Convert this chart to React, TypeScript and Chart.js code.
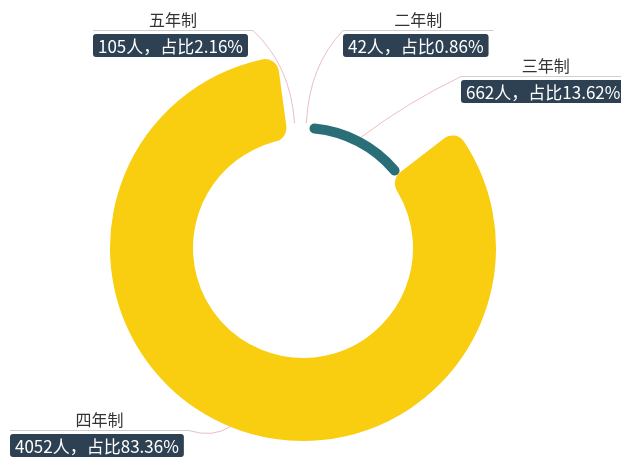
import React, { useEffect, useRef } from 'react';
import { Chart, registerables } from 'chart.js';

Chart.register(...registerables);

const categories = ['二年制', '三年制', '四年制', '五年制'];
const counts = [42, 662, 4052, 105];
const percents = ['0.86', '13.62', '83.36', '2.16'];
const colors = ['#ffffff', '#2a6f78', '#f9cd10', '#ffffff'];
// index of the segment drawn at full ring thickness
const fullIndex = 2;

// label layout (box top-left, elbow of leader line)
const labelLayout = [
  { boxLeft: 343, boxTop: 34, elbow: [309, 66], side: 'right' },
  { boxLeft: 461, boxTop: 80, elbow: [408, 102], side: 'right' },
  { boxLeft: 10, boxTop: 434, elbow: [213, 438], side: 'left' },
  { boxLeft: 93, boxTop: 34, elbow: [291, 66], side: 'left' },
];

const FONT = '"Noto Sans CJK SC", "Noto Sans", sans-serif';

const thinRingPlugin = {
  id: 'thinRing',
  afterDatasetsUpdate(chart: any) {
    const meta = chart.getDatasetMeta(0);
    meta.data.forEach((el: any, i: number) => {
      if (i === fullIndex) return;
      const inner = el.innerRadius;
      const outer = el.outerRadius;
      const span = outer - inner;
      el.innerRadius = inner + span * 0.06;
      el.outerRadius = inner + span * 0.18;
    });
  },
};

const labelPlugin = {
  id: 'labels',
  afterDraw(chart: any) {
    const ctx = chart.ctx as CanvasRenderingContext2D;
    const meta = chart.getDatasetMeta(0);
    ctx.save();
    meta.data.forEach((el: any, i: number) => {
      const lay = labelLayout[i];
      const mid = (el.startAngle + el.endAngle) / 2;
      const ax = el.x + Math.cos(mid) * el.outerRadius;
      const ay = el.y + Math.sin(mid) * el.outerRadius;

      ctx.font = `17px ${FONT}`;
      const boxText = `${counts[i]}人，占比${percents[i]}%`;
      const tw = ctx.measureText(boxText).width;
      const boxW = tw + 10;
      const boxH = 23;
      const ulW = boxW + 5;
      const ulY = lay.boxTop - 3.5;
      const endX = lay.side === 'right' ? lay.boxLeft : lay.boxLeft + ulW;

      // leader line
      ctx.strokeStyle = 'rgba(232, 178, 186, 0.85)';
      ctx.lineWidth = 1;
      ctx.beginPath();
      ctx.moveTo(ax, ay);
      ctx.quadraticCurveTo(lay.elbow[0], lay.elbow[1], endX, ulY);
      ctx.stroke();

      // underline
      ctx.strokeStyle = '#cfcfcf';
      ctx.beginPath();
      ctx.moveTo(lay.boxLeft, ulY);
      ctx.lineTo(lay.boxLeft + ulW, ulY);
      ctx.stroke();

      // name
      ctx.fillStyle = '#333333';
      ctx.font = `16px ${FONT}`;
      ctx.textAlign = 'center';
      ctx.textBaseline = 'middle';
      ctx.fillText(categories[i], lay.boxLeft + ulW / 2, lay.boxTop - 14);

      // box
      ctx.fillStyle = '#2d4152';
      ctx.beginPath();
      (ctx as any).roundRect(lay.boxLeft, lay.boxTop, boxW, boxH, 3);
      ctx.fill();
      ctx.fillStyle = '#ffffff';
      ctx.font = `17px ${FONT}`;
      ctx.textAlign = 'left';
      ctx.fillText(boxText, lay.boxLeft + 5, lay.boxTop + boxH / 2 + 1);
    });
    ctx.restore();
  },
};

export default function App() {
  const ref = useRef<HTMLCanvasElement>(null);
  useEffect(() => {
    if (!ref.current) return;
    const chart = new Chart(ref.current, {
      type: 'doughnut',
      data: {
        labels: categories,
        datasets: [
          {
            data: counts,
            backgroundColor: colors,
            borderWidth: 0,
            hoverOffset: 0,
            borderRadius: (c: any) => (c.dataIndex === fullIndex ? 14 : 10),
          },
        ],
      },
      options: {
        responsive: false,
        animation: false,
        cutout: '57%',
        layout: { padding: { left: 110, right: 125, top: 55, bottom: 16 } },
        plugins: {
          legend: { display: false },
          tooltip: { enabled: false },
        },
      },
      plugins: [thinRingPlugin, labelPlugin],
    } as any);
    return () => chart.destroy();
  }, []);
  return (
    <div style={{ position: 'absolute', left: 0, top: 0, width: 621, height: 457, background: '#fff' }}>
      <canvas ref={ref} width={621} height={457} />
    </div>
  );
}
